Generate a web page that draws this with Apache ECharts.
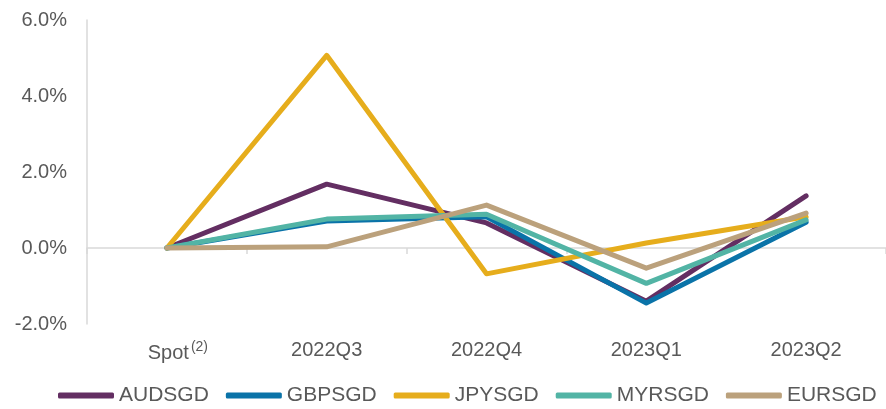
<!DOCTYPE html>
<html>
<head>
<meta charset="utf-8">
<script src="https://cdn.jsdelivr.net/npm/echarts@6/dist/echarts.min.js"></script>
<style>
  html, body { margin: 0; padding: 0; background: #ffffff; }
  #chart { width: 886px; height: 409px; }
</style>
</head>
<body>
<div id="chart"></div>
<script>
// Quarterly FX movement against SGD, relative to spot (in %)
const categories = ['Spot', '2022Q3', '2022Q4', '2023Q1', '2023Q2'];
const audsgd = [0, 1.68, 0.66, -1.40, 1.37];
const gbpsgd = [0, 0.71, 0.82, -1.45, 0.68];
const jpysgd = [0, 5.07, -0.68, 0.13, 0.82];
const myrsgd = [0, 0.76, 0.89, -0.93, 0.74];
const eursgd = [0, 0.03, 1.13, -0.53, 0.92];
const yTicks = [-2, 0, 2, 4, 6];

const seriesDefs = [
  { name: 'AUDSGD', data: audsgd, color: '#632E62' },
  { name: 'GBPSGD', data: gbpsgd, color: '#0A73A8' },
  { name: 'JPYSGD', data: jpysgd, color: '#E6AD1C' },
  { name: 'MYRSGD', data: myrsgd, color: '#52B4A5' },
  { name: 'EURSGD', data: eursgd, color: '#BBA17C' }
];

const textColor = '#595959';
const axisGrey = '#D9D9D9';
const fontFamily = 'Arial, "Liberation Sans", sans-serif';

const chart = echarts.init(document.getElementById('chart'), null, { renderer: 'canvas' });

chart.setOption({
  animation: false,
  backgroundColor: '#ffffff',
  grid: { left: 87, top: 20, width: 808, height: 304, containLabel: false },
  legend: {
    left: 53,
    top: 385,
    width: 860,
    padding: [0, 5, 0, 5],
    itemWidth: 56,
    itemHeight: 6,
    itemGap: 17,
    icon: 'roundRect',
    textStyle: { color: textColor, fontSize: 21, fontFamily: fontFamily },
    data: seriesDefs.map(s => s.name)
  },
  xAxis: [
    {
      type: 'category',
      data: categories,
      boundaryGap: true,
      axisLine: { onZero: true, lineStyle: { color: axisGrey, width: 1.5 } },
      axisTick: { show: true, length: 6, lineStyle: { color: axisGrey, width: 1.5 } },
      axisLabel: { show: false },
      splitLine: { show: false }
    },
    {
      type: 'category',
      data: categories,
      position: 'bottom',
      boundaryGap: true,
      axisLine: { show: false, onZero: false },
      axisTick: { show: false },
      splitLine: { show: false },
      axisLabel: {
        interval: 0,
        margin: 16,
        color: textColor,
        fontSize: 20,
        fontFamily: fontFamily,
        formatter: function (v) {
          return v === 'Spot' ? '{spot|Spot}{sup|(2)}' : v;
        },
        rich: {
          spot: { fontSize: 20, color: textColor, fontFamily: fontFamily, padding: [0, 0, 0, 22] },
          sup: { fontSize: 14, color: textColor, fontFamily: fontFamily, verticalAlign: 'top', padding: [0, 0, 12, 2] }
        }
      }
    }
  ],
  yAxis: {
    type: 'value',
    min: yTicks[0],
    max: yTicks[yTicks.length - 1],
    interval: 2,
    axisLine: { show: true, lineStyle: { color: axisGrey, width: 1.5 } },
    axisTick: { show: false },
    splitLine: { show: false },
    axisLabel: {
      margin: 20,
      color: textColor,
      fontSize: 20,
      fontFamily: fontFamily,
      formatter: v => v.toFixed(1) + '%'
    }
  },
  series: seriesDefs.map(s => ({
    name: s.name,
    type: 'line',
    xAxisIndex: 0,
    data: s.data,
    symbol: 'none',
    color: s.color,
    lineStyle: { color: s.color, width: 5, cap: 'round', join: 'round' },
    itemStyle: { color: s.color }
  }))
});
</script>
</body>
</html>
